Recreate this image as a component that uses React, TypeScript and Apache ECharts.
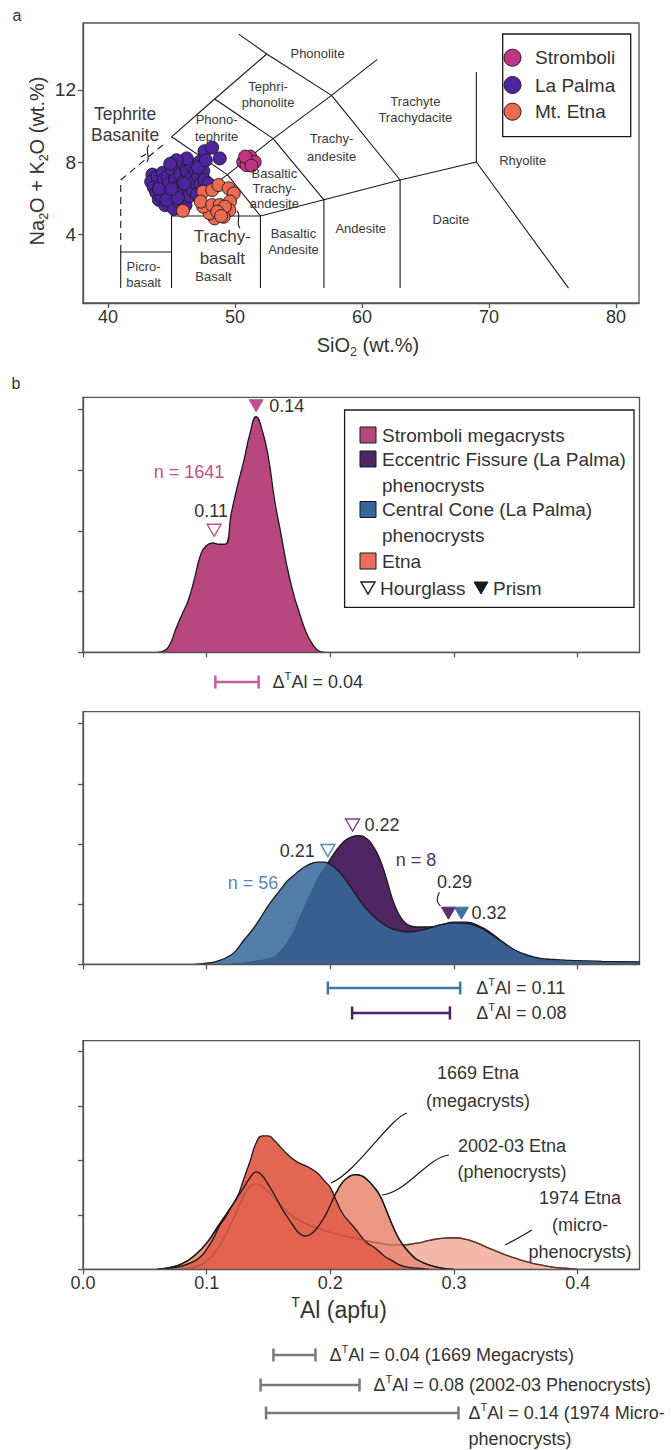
import React, { useEffect, useRef } from 'react';
import * as echarts from 'echarts';

const FONT = '"Liberation Sans", Arial, Helvetica, sans-serif';
const INK = '#333333';

// ---------------- Panel a : TAS diagram ----------------
const tasXTicks = [40, 50, 60, 70, 80];
const tasYTicks = [4, 8, 12];

const stromboliTAS = [
  [51.2, 8.3], [50.65, 8.0], [50.9, 7.83], [51.55, 8.0], [50.8, 8.3], [51.3, 7.8],
];
const laPalmaTAS = [
  [43.5, 7.3], [43.4, 6.9], [43.6, 6.6], [43.9, 7.2], [43.8, 6.3], [44.0, 5.9], [44.1, 6.7],
  [44.3, 7.4], [44.4, 7.0], [44.2, 6.1], [44.5, 5.6], [44.6, 6.4], [44.7, 7.2], [44.8, 6.8],
  [44.9, 5.9], [45.0, 7.6], [45.1, 6.2], [45.2, 5.4], [45.3, 7.0], [45.4, 6.6], [45.5, 7.8],
  [45.6, 5.8], [45.7, 7.3], [45.8, 6.3], [45.9, 6.9], [46.0, 7.9], [46.1, 5.6], [46.2, 7.5],
  [46.3, 6.6], [46.4, 6.1], [46.5, 7.1], [46.6, 7.8], [46.7, 6.4], [46.8, 6.9], [46.9, 7.5],
  [47.0, 6.2], [47.1, 7.2], [47.2, 8.0], [47.3, 6.8], [47.5, 7.5], [47.6, 7.0], [47.9, 6.8],
  [47.1, 7.7], [46.2, 8.2], [45.4, 8.1], [47.6, 8.6], [48.2, 8.8], [48.8, 8.2], [47.7, 8.1],
  [44.0, 6.5], [44.6, 5.9], [45.5, 6.0], [46.0, 6.8], [45.0, 6.5], [44.9, 7.9],
];
const etnaTAS = [
  [47.5, 6.35], [48.2, 6.44], [48.7, 6.72], [49.5, 6.54], [49.9, 6.26], [49.6, 5.8],
  [49.55, 5.33], [49.1, 4.96], [48.4, 4.87], [48.0, 5.15], [47.5, 5.52], [47.3, 5.8],
  [45.9, 5.29], [48.2, 5.61], [48.8, 5.61], [49.2, 5.52], [48.6, 5.24], [48.9, 5.0],
];

const tasBoundaries = [
  [[41, 1], [41, 3], [45, 3]],
  [[45, 1], [45, 5], [52, 5], [52, 1]],
  [[52, 5], [57, 5.9], [57, 1]],
  [[57, 5.9], [63, 7], [63, 1]],
  [[63, 7], [69, 8], [76.26, 1]],
  [[69, 8], [69, 13]],
  [[45, 5], [49.4, 7.3], [52, 5]],
  [[45, 9.4], [49.4, 7.3], [53, 9.3], [57, 5.9]],
  [[48.4, 11.5], [53, 9.3], [57.6, 11.7], [63, 7]],
  [[45, 9.4], [48.4, 11.5], [52.5, 14], [57.6, 11.7], [61.2, 13.7]],
  [[52.5, 14], [50.3, 15.1]],
];
const tasDashed = [[41, 3], [41, 7], [44.4, 9.0]];

// [label, SiO2, alkali, fontSize, lineHeight]
const tasFieldLabels: [string, number, number, number, number][] = [
  ['Phonolite', 56.5, 14.05, 13, 15],
  ['Tephri-\nphonolite', 52.6, 11.75, 13, 15.5],
  ['Phono-\ntephrite', 48.55, 9.9, 13, 16.5],
  ['Tephrite\nBasanite', 41.35, 10.1, 17.5, 21],
  ['Trachy-\nandesite', 57.6, 8.8, 13, 18],
  ['Trachyte\nTrachydacite', 64.2, 10.9, 13, 16],
  ['Rhyolite', 72.65, 8.1, 13, 15],
  ['Dacite', 67.0, 4.78, 13, 15],
  ['Andesite', 59.9, 4.3, 13, 15],
  ['Basaltic\nAndesite', 54.6, 3.6, 13, 16],
  ['Basaltic\nTrachy-\nandesite', 53.1, 6.54, 13, 15],
  ['Trachy-\nbasalt', 49.0, 3.25, 17, 21.5],
  ['Basalt', 48.3, 1.63, 13, 15],
  ['Picro-\nbasalt', 42.8, 1.74, 13, 16],
];

// ---------------- Panel b : TAl density curves ----------------
const taTicks = [0, 0.1, 0.2, 0.3, 0.4];
const densTicks = [0, 1, 2, 3, 4];

const stromboliDensity = [
  [0.06, 0], [0.065, 0.02], [0.07, 0.12], [0.075, 0.38], [0.08, 0.62], [0.085, 0.85],
  [0.09, 1.2], [0.095, 1.6], [0.1, 1.76], [0.105, 1.8], [0.11, 1.78], [0.115, 1.78],
  [0.12, 2.3], [0.125, 2.75], [0.13, 3.15], [0.135, 3.6], [0.14, 3.88], [0.145, 3.65],
  [0.15, 3.2], [0.155, 2.5], [0.16, 1.96], [0.165, 1.41], [0.17, 0.98], [0.175, 0.65],
  [0.18, 0.35], [0.185, 0.15], [0.19, 0.03], [0.195, 0],
];
const eccentricDensity = [
  [0.12, 0], [0.13, 0.02], [0.14, 0.05], [0.15, 0.09], [0.155, 0.12], [0.16, 0.22],
  [0.165, 0.35], [0.17, 0.52], [0.175, 0.75], [0.18, 0.98], [0.185, 1.2], [0.19, 1.42],
  [0.195, 1.58], [0.2, 1.75], [0.205, 1.9], [0.21, 2.02], [0.215, 2.1], [0.2225, 2.14],
  [0.23, 2.08], [0.235, 1.95], [0.24, 1.75], [0.245, 1.45], [0.25, 1.1], [0.255, 0.85],
  [0.26, 0.7], [0.265, 0.64], [0.27, 0.62], [0.28, 0.62], [0.29, 0.66], [0.3, 0.7],
  [0.31, 0.7], [0.32, 0.64], [0.33, 0.52], [0.34, 0.36], [0.35, 0.22], [0.36, 0.13],
  [0.37, 0.08], [0.38, 0.05], [0.4, 0.03], [0.45, 0.02],
];
const centralDensity = [
  [0.09, 0], [0.1, 0.02], [0.11, 0.06], [0.12, 0.16], [0.125, 0.26], [0.13, 0.4],
  [0.135, 0.52], [0.14, 0.66], [0.145, 0.82], [0.15, 0.98], [0.155, 1.12], [0.16, 1.25],
  [0.165, 1.38], [0.17, 1.47], [0.175, 1.56], [0.18, 1.63], [0.185, 1.68], [0.19, 1.7],
  [0.195, 1.7], [0.2, 1.66], [0.205, 1.58], [0.21, 1.47], [0.215, 1.33], [0.22, 1.18],
  [0.225, 1.03], [0.23, 0.9], [0.235, 0.8], [0.24, 0.71], [0.245, 0.64], [0.25, 0.59],
  [0.255, 0.56], [0.26, 0.54], [0.265, 0.54], [0.27, 0.55], [0.28, 0.6], [0.29, 0.66],
  [0.3, 0.69], [0.31, 0.68], [0.32, 0.62], [0.33, 0.5], [0.34, 0.36], [0.35, 0.23],
  [0.36, 0.15], [0.37, 0.1], [0.38, 0.08], [0.39, 0.07], [0.4, 0.06], [0.42, 0.05], [0.45, 0.04],
];
const etna1669Density = [
  [0.06, 0], [0.07, 0.02], [0.08, 0.06], [0.09, 0.15], [0.095, 0.23], [0.1, 0.37],
  [0.105, 0.55], [0.11, 0.78], [0.115, 0.95], [0.12, 1.15], [0.125, 1.34], [0.13, 1.66],
  [0.135, 1.98], [0.14, 2.32], [0.145, 2.45], [0.15, 2.45], [0.155, 2.36], [0.16, 2.24],
  [0.165, 2.12], [0.17, 2.02], [0.175, 1.95], [0.18, 1.9], [0.185, 1.84], [0.19, 1.76],
  [0.195, 1.63], [0.2, 1.5], [0.205, 1.25], [0.21, 1.02], [0.215, 0.88], [0.22, 0.75],
  [0.225, 0.6], [0.23, 0.48], [0.235, 0.41], [0.24, 0.32], [0.245, 0.22], [0.25, 0.16],
  [0.255, 0.09], [0.26, 0.05], [0.27, 0.02], [0.28, 0],
];
const etna2002Density = [
  [0.06, 0], [0.07, 0.03], [0.08, 0.1], [0.09, 0.25], [0.1, 0.48], [0.11, 0.82],
  [0.12, 1.15], [0.125, 1.33], [0.13, 1.5], [0.135, 1.68], [0.14, 1.79], [0.145, 1.72],
  [0.15, 1.55], [0.155, 1.36], [0.16, 1.15], [0.165, 0.97], [0.17, 0.8], [0.175, 0.66],
  [0.18, 0.61], [0.185, 0.66], [0.19, 0.78], [0.195, 0.95], [0.2, 1.18], [0.205, 1.42],
  [0.21, 1.6], [0.215, 1.7], [0.22, 1.74], [0.225, 1.72], [0.23, 1.64], [0.235, 1.52],
  [0.24, 1.36], [0.245, 1.1], [0.25, 0.82], [0.255, 0.58], [0.26, 0.41], [0.265, 0.28],
  [0.27, 0.18], [0.28, 0.08], [0.29, 0.02], [0.3, 0],
];
const etna1974Density = [
  [0.08, 0], [0.09, 0.04], [0.1, 0.15], [0.11, 0.42], [0.12, 0.85], [0.125, 1.1],
  [0.13, 1.35], [0.135, 1.52], [0.14, 1.57], [0.145, 1.52], [0.15, 1.42], [0.155, 1.3],
  [0.16, 1.18], [0.165, 1.06], [0.17, 0.97], [0.175, 0.9], [0.18, 0.84], [0.19, 0.75],
  [0.2, 0.68], [0.21, 0.62], [0.22, 0.57], [0.23, 0.52], [0.24, 0.48], [0.25, 0.45],
  [0.26, 0.45], [0.27, 0.48], [0.28, 0.53], [0.29, 0.57], [0.3, 0.58], [0.31, 0.55],
  [0.32, 0.47], [0.33, 0.37], [0.34, 0.28], [0.35, 0.2], [0.36, 0.13], [0.37, 0.08],
  [0.38, 0.04], [0.39, 0.02], [0.4, 0],
];

// Delta TAl ranges (hourglass -> prism)
const stromboliDelta = [0.107, 0.142];
const centralDelta = [0.198, 0.305];
const eccentricDelta = [0.2176, 0.2967];
const etna1669Delta = [0.154, 0.188];
const etna2002Delta = [0.1436, 0.2236];
const etna1974Delta = [0.148, 0.3036];

// sector-zone peak positions
const stromboliPeaks = { hourglass: 0.106, prism: 0.14 };
const centralPeaks = { hourglass: 0.198, prism: 0.306 };
const eccentricPeaks = { hourglass: 0.218, prism: 0.2955 };

// colours
const C_STROM = '#b8467f';
const C_STROM_T = '#c4508b';
const C_LAP = '#4f24a0';
const C_ETNA = '#ec6a50';
const C_STROM_A = '#c23584';
const C_ECC = '#4e2461';
const C_ECC_T = '#5c3070';
const C_CEN = '#35689a';
const C_CEN_T = '#4d86b3';
const C_ETNA_LEG = '#e8705a';
const C_1669 = '#e2614c';
const C_2002 = '#ea8c77';
const C_1974 = '#f3b8a7';
const C_GRAY = '#7a7a7a';

function densityAt(arr: number[][], x: number) {
  for (let i = 0; i < arr.length - 1; i++) {
    if (x >= arr[i][0] && x <= arr[i + 1][0]) {
      const t = (x - arr[i][0]) / (arr[i + 1][0] - arr[i][0]);
      return arr[i][1] + t * (arr[i + 1][1] - arr[i][1]);
    }
  }
  return 0;
}

function rich(fs: number, fill = INK) {
  return {
    n: { fontSize: fs, fontFamily: FONT, fill, lineHeight: fs * 1.3 },
    sub: { fontSize: fs * 0.62, fontFamily: FONT, fill, lineHeight: fs * 0.68, verticalAlign: 'bottom' },
    sup: { fontSize: fs * 0.62, fontFamily: FONT, fill, lineHeight: fs * 0.68, verticalAlign: 'top' },
  };
}

function txt(x: number, y: number, text: string, fs: number, opts: any = {}) {
  return {
    type: 'text',
    x,
    y,
    z: 100,
    silent: true,
    style: {
      text,
      fontSize: fs,
      fontFamily: FONT,
      fill: opts.fill || INK,
      align: opts.align || 'center',
      verticalAlign: opts.va || 'middle',
      lineHeight: opts.lh,
      rich: opts.rich,
    },
    rotation: opts.rotation || 0,
  };
}

function tri(cx: number, cy: number, filled: boolean, color: string) {
  return {
    type: 'polygon',
    z: 100,
    silent: true,
    shape: { points: [[cx - 7, cy - 6], [cx + 7, cy - 6], [cx, cy + 6]] },
    style: { fill: filled ? color : 'none', stroke: color, lineWidth: filled ? 1 : 1.4 },
  };
}

function line(x1: number, y1: number, x2: number, y2: number, stroke: string, lw = 2.5) {
  return { type: 'line', z: 100, silent: true, shape: { x1, y1, x2, y2 }, style: { stroke, lineWidth: lw } };
}

function bez(p: number[], stroke = '#1a1a1a', lw = 1.2) {
  return {
    type: 'bezierCurve',
    z: 100,
    silent: true,
    shape: { x1: p[0], y1: p[1], cpx1: p[2], cpy1: p[3], cpx2: p[4], cpy2: p[5], x2: p[6], y2: p[7] },
    style: { stroke, lineWidth: lw, fill: 'none' },
  };
}

const axisCommon = {
  axisLine: { show: true, lineStyle: { color: '#555', width: 1.3 } },
  splitLine: { show: false },
  z: 10,
};

function densityXAxis(grid: number, labels: boolean) {
  return {
    gridIndex: grid,
    type: 'value',
    min: 0,
    max: 0.45,
    ...axisCommon,
    axisTick: { show: true, customValues: taTicks, length: 5, lineStyle: { color: '#555', width: 1.3 } },
    axisLabel: {
      show: labels,
      customValues: taTicks,
      formatter: (v: number) => v.toFixed(1),
      fontSize: 18,
      fontFamily: FONT,
      color: INK,
      margin: 5,
    },
  };
}
function densityYAxis(grid: number) {
  return {
    gridIndex: grid,
    type: 'value',
    min: 0,
    max: 4.2,
    ...axisCommon,
    axisTick: { show: true, customValues: densTicks, length: 5, lineStyle: { color: '#555', width: 1.3 } },
    axisLabel: { show: false },
  };
}

function area(grid: number, data: number[][], fill: string, opacity: number, showLine = true, z = 2) {
  return {
    type: 'line',
    xAxisIndex: grid,
    yAxisIndex: grid,
    data,
    smooth: true,
    symbol: 'none',
    silent: true,
    z,
    lineStyle: { color: '#1a1a1a', width: showLine ? 1.3 : 0 },
    areaStyle: { color: fill, opacity },
  };
}

function outline(grid: number, data: number[][], color: string, z: number) {
  return {
    type: 'line',
    xAxisIndex: grid,
    yAxisIndex: grid,
    data,
    smooth: true,
    symbol: 'none',
    silent: true,
    z,
    lineStyle: { color, width: 1.3 },
  };
}

function buildOption() {
  const gridBox = { show: true, borderColor: '#555', borderWidth: 1.3, backgroundColor: 'transparent' };
  return {
    animation: false,
    grid: [
      { left: 83, top: 23, width: 556, height: 280, ...gridBox },
      { left: 83, top: 397.3, width: 556.5, height: 255, ...gridBox },
      { left: 83, top: 711.7, width: 556.5, height: 252.6, ...gridBox },
      { left: 83, top: 1040.7, width: 556.5, height: 228.6, ...gridBox },
    ],
    xAxis: [
      {
        gridIndex: 0,
        type: 'value',
        min: 38.03,
        max: 81.81,
        ...axisCommon,
        axisTick: { show: true, customValues: tasXTicks, length: 5, lineStyle: { color: '#555', width: 1.3 } },
        axisLabel: { customValues: tasXTicks, fontSize: 18, fontFamily: FONT, color: INK, margin: 5 },
      },
      densityXAxis(1, false),
      densityXAxis(2, false),
      densityXAxis(3, true),
    ],
    yAxis: [
      {
        gridIndex: 0,
        type: 'value',
        min: 0.17,
        max: 15.72,
        ...axisCommon,
        axisTick: { show: true, customValues: tasYTicks, length: 5, lineStyle: { color: '#555', width: 1.3 } },
        axisLabel: { customValues: tasYTicks, fontSize: 19, fontFamily: FONT, color: INK, margin: 7 },
      },
      densityYAxis(1),
      densityYAxis(2),
      densityYAxis(3),
    ],
    series: [
      ...tasBoundaries.map((d) => ({
        type: 'line',
        xAxisIndex: 0,
        yAxisIndex: 0,
        data: d,
        symbol: 'none',
        silent: true,
        z: 1,
        lineStyle: { color: '#1a1a1a', width: 1.1 },
      })),
      {
        type: 'line',
        xAxisIndex: 0,
        yAxisIndex: 0,
        data: tasDashed,
        symbol: 'none',
        silent: true,
        z: 1,
        lineStyle: { color: '#1a1a1a', width: 1.1, type: [7, 5] },
      },
      ...[
        [laPalmaTAS, C_LAP],
        [etnaTAS, C_ETNA],
        [stromboliTAS, C_STROM_A],
      ].map(([d, c]) => ({
        type: 'scatter',
        xAxisIndex: 0,
        yAxisIndex: 0,
        data: d,
        symbol: 'circle',
        symbolSize: 13,
        silent: true,
        z: 3,
        itemStyle: { color: c, borderColor: '#1a1a1a', borderWidth: 0.9, opacity: 1 },
      })),
      area(1, stromboliDensity, C_STROM, 1),
      area(2, eccentricDensity, C_ECC, 1, true, 2),
      area(2, centralDensity, C_CEN, 0.86, true, 3),
      area(3, etna1974Density, C_1974, 1, true, 2),
      area(3, etna2002Density, C_2002, 0.9, true, 3),
      area(3, etna1669Density, C_1669, 0.96, true, 4),
      outline(3, etna1974Density, 'rgba(150,70,55,0.55)', 5),
      outline(3, etna2002Density, '#1a1a1a', 6),
    ],
  };
}

function buildGraphics(chart: any) {
  const px = (g: number, x: number, y: number): number[] => chart.convertToPixel({ gridIndex: g }, [x, y]);
  const els: any[] = [];

  // panel letters
  els.push(txt(17, 15, 'a', 16));
  els.push(txt(16, 383, 'b', 16));

  // ---------- Panel a ----------
  for (const [label, sx, sy, fs, lh] of tasFieldLabels) {
    const [x, y] = px(0, sx, sy);
    els.push(txt(x, y, label, fs, { lh, fill: '#3a3a3a' }));
  }
  // little connector brackets
  els.push(bez([149, 145, 144, 151, 151, 156, 147, 162], '#1a1a1a', 1.1));
  els.push(line(146, 154, 141, 157, '#1a1a1a', 1.1));
  els.push(bez([237, 211, 242, 215, 235, 223, 240, 228], '#1a1a1a', 1.1));

  // axis titles
  els.push(
    txt(37, 161, '{n|Na}{sub|2}{n|O + K}{sub|2}{n|O (wt.%)}', 20, { rich: rich(20), rotation: Math.PI / 2 })
  );
  els.push(txt(368, 345, '{n|SiO}{sub|2}{n| (wt.%)}', 20, { rich: rich(20) }));

  // legend a
  els.push({
    type: 'rect',
    z: 99,
    silent: true,
    shape: { x: 502.7, y: 34, width: 128, height: 102.7 },
    style: { fill: '#fff', stroke: '#1a1a1a', lineWidth: 1.3 },
  });
  const legA: [string, string, number][] = [
    ['Stromboli', C_STROM_A, 57.7],
    ['La Palma', C_LAP, 85],
    ['Mt. Etna', C_ETNA, 111.7],
  ];
  for (const [name, c, y] of legA) {
    els.push({
      type: 'circle',
      z: 100,
      silent: true,
      shape: { cx: 512.5, cy: y, r: 8.5 },
      style: { fill: c, stroke: '#1a1a1a', lineWidth: 1 },
    });
    els.push(txt(535, y, name, 19, { align: 'left' }));
  }

  // ---------- Panel b top : Stromboli ----------
  {
    const [mx, my] = px(1, stromboliPeaks.prism, densityAt(stromboliDensity, stromboliPeaks.prism));
    els.push(tri(mx, my - 11, true, C_STROM_T));
    els.push(txt(mx + 13, my - 11, '0.14', 18, { align: 'left' }));
    const [hx, hy] = px(1, stromboliPeaks.hourglass, densityAt(stromboliDensity, stromboliPeaks.hourglass));
    els.push(tri(hx, hy - 13, false, C_STROM_T));
    els.push(txt(hx - 3, hy - 32, '0.11', 18));
    els.push(txt(189, 472, 'n = 1641', 18, { fill: C_STROM_T }));
  }
  // legend b
  els.push({
    type: 'rect',
    z: 99,
    silent: true,
    shape: { x: 344.6, y: 410, width: 289.4, height: 197.3 },
    style: { fill: '#fff', stroke: '#1a1a1a', lineWidth: 1.3 },
  });
  const legB: [string, string, number][] = [
    ['Stromboli megacrysts', C_STROM, 435],
    ['Eccentric Fissure (La Palma)', C_ECC, 459],
    ['Central Cone (La Palma)', C_CEN, 509.5],
    ['Etna', C_ETNA_LEG, 561],
  ];
  for (const [name, c, y] of legB) {
    els.push({
      type: 'rect',
      z: 100,
      silent: true,
      shape: { x: 360, y: y - 8, width: 16, height: 16 },
      style: { fill: c, stroke: '#1a1a1a', lineWidth: 1 },
    });
    els.push(txt(382, y, name, 19, { align: 'left' }));
  }
  els.push(txt(382, 485, 'phenocrysts', 19, { align: 'left' }));
  els.push(txt(382, 535, 'phenocrysts', 19, { align: 'left' }));
  els.push(tri(368, 588, false, '#1a1a1a'));
  els.push(txt(380, 588, 'Hourglass', 19, { align: 'left' }));
  els.push(tri(481, 588, true, '#1a1a1a'));
  els.push(txt(493, 588, 'Prism', 19, { align: 'left' }));

  // ---------- Panel b middle : La Palma ----------
  {
    const [bx, by] = px(2, centralPeaks.hourglass, densityAt(centralDensity, centralPeaks.hourglass));
    els.push(tri(bx, by - 13, false, C_CEN_T));
    els.push(txt(bx - 13, by - 13, '0.21', 18, { align: 'right' }));
    const [ux, uy] = px(2, eccentricPeaks.hourglass, densityAt(eccentricDensity, eccentricPeaks.hourglass));
    els.push(tri(ux, uy - 12, false, '#6e4a85'));
    els.push(txt(ux + 12, uy - 12, '0.22', 18, { align: 'left' }));
    const [pfx, pfy] = px(2, eccentricPeaks.prism, densityAt(eccentricDensity, eccentricPeaks.prism));
    const [bfx, bfy] = px(2, centralPeaks.prism, densityAt(centralDensity, centralPeaks.prism));
    const fy = Math.min(pfy, bfy) - 10;
    els.push(tri(pfx, fy, true, C_ECC_T));
    els.push(tri(bfx, fy, true, '#3b76a3'));
    els.push(txt(bfx + 10, fy, '0.32', 18, { align: 'left' }));
    els.push(txt(pfx + 6, fy - 31, '0.29', 18));
    els.push(bez([pfx - 9, fy - 21, pfx - 12, fy - 16, pfx - 12, fy - 11, pfx - 8, fy - 7], '#1a1a1a', 1.1));
    els.push(txt(253, 883, 'n = 56', 18, { fill: '#5b88b0' }));
    els.push(txt(416, 860, 'n = 8', 18, { fill: '#5a2d6e' }));
  }

  // ---------- Panel b bottom : Etna annotations ----------
  els.push(txt(478, 1073, '1669 Etna', 18));
  els.push(txt(478, 1101, '(megacrysts)', 18));
  els.push(bez([407, 1113, 390, 1118, 356, 1173, 331, 1183]));
  els.push(txt(512, 1146, '2002-03 Etna', 18));
  els.push(txt(512, 1172, '(phenocrysts)', 18));
  els.push(bez([449, 1155, 428, 1157, 406, 1193, 382, 1195]));
  els.push(txt(580, 1198, '1974 Etna', 18));
  els.push(txt(580, 1225, '(micro-', 18));
  els.push(txt(580, 1252, 'phenocrysts)', 18));
  els.push(bez([532, 1230, 522, 1236, 513, 1241, 505, 1245]));
  els.push(txt(339, 1310, '{n|}{sup|T}{n|Al (apfu)}', 23, { rich: rich(23) }));

  // ---------- Delta TAl bars ----------
  const bar = (g: number, r: number[], y: number, c: string, label: string, tx?: number, lbl2?: string) => {
    const [x0] = px(g, r[0], 0);
    const [x1] = px(g, r[1], 0);
    els.push(line(x0, y, x1, y, c));
    els.push(line(x0, y - 6.5, x0, y + 6.5, c));
    els.push(line(x1, y - 6.5, x1, y + 6.5, c));
    const textX = tx !== undefined ? tx : x1 + 14;
    els.push(txt(textX, y, label, 18, { align: 'left', rich: rich(18) }));
    if (lbl2) els.push(txt(textX, y + 26, lbl2, 18, { align: 'left' }));
    return x1;
  };
  bar(1, stromboliDelta, 682, '#cc5a95', '{n|Δ}{sup|T}{n|Al = 0.04}');
  const cx1 = px(2, centralDelta[1], 0)[0];
  bar(2, centralDelta, 988, '#3b78a6', '{n|Δ}{sup|T}{n|Al = 0.11}', cx1 + 16);
  bar(2, eccentricDelta, 1013, '#4b2262', '{n|Δ}{sup|T}{n|Al = 0.08}', cx1 + 16);
  bar(3, etna1669Delta, 1355, C_GRAY, '{n|Δ}{sup|T}{n|Al = 0.04 (1669 Megacrysts)}', undefined);
  bar(3, etna2002Delta, 1385, C_GRAY, '{n|Δ}{sup|T}{n|Al = 0.08 (2002-03 Phenocrysts)}', undefined);
  bar(3, etna1974Delta, 1413, C_GRAY, '{n|Δ}{sup|T}{n|Al = 0.14 (1974 Micro-}', px(3, etna1974Delta[1], 0)[0] + 10, 'phenocrysts)');

  return els;
}

export default function App() {
  const ref = useRef<HTMLDivElement>(null);
  useEffect(() => {
    document.body.style.margin = '0';
    const chart = echarts.init(ref.current as HTMLDivElement, null, { renderer: 'svg' });
    chart.setOption(buildOption() as any);
    chart.setOption({ graphic: { elements: buildGraphics(chart) } } as any);
    return () => chart.dispose();
  }, []);
  return <div ref={ref} style={{ width: 671, height: 1450, background: '#fff' }} />;
}
